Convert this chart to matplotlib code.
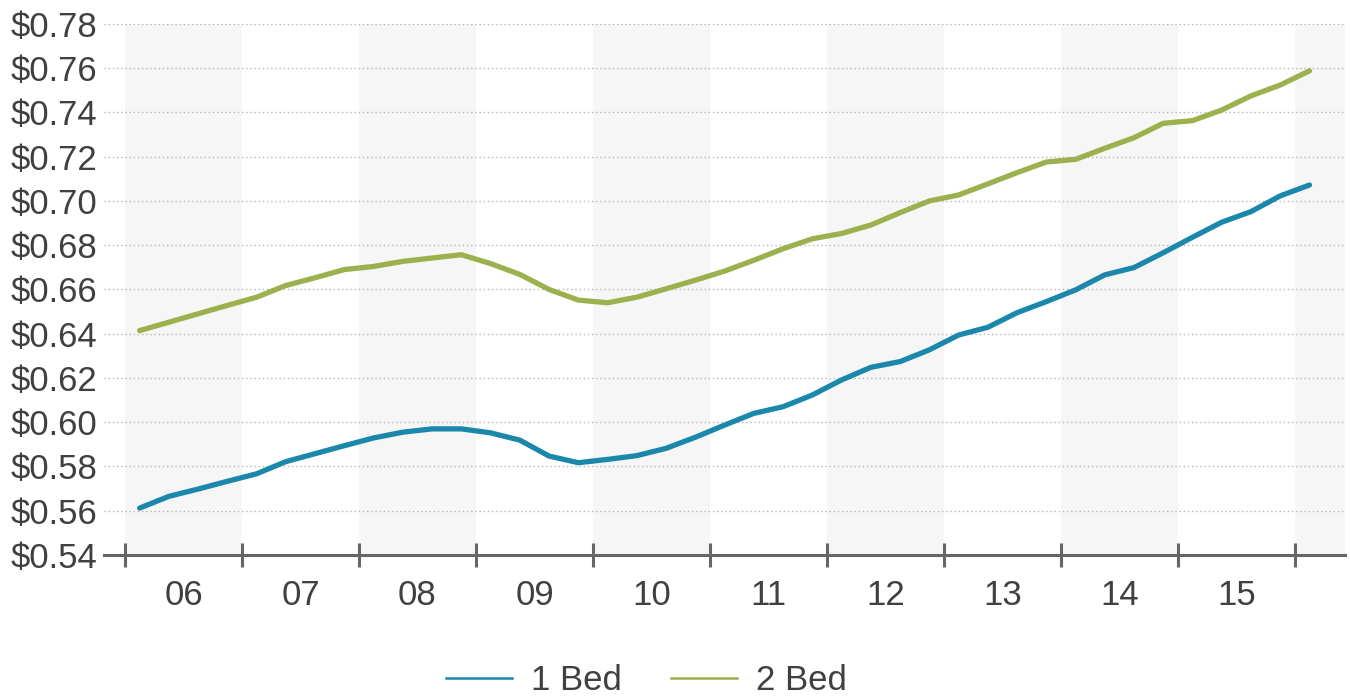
import matplotlib.pyplot as plt
from matplotlib.lines import Line2D
from matplotlib.ticker import FuncFormatter, FixedLocator

plt.rcParams['font.family'] = ['Liberation Sans', 'DejaVu Sans']

# quarterly rent per sq ft, Q1 2006 .. Q1 2016
one_bed = [0.5612, 0.5665, 0.5698, 0.5733, 0.5767, 0.5822, 0.5858, 0.5894,
           0.5929, 0.5955, 0.5970, 0.5970, 0.5952, 0.5919, 0.5847, 0.5817,
           0.5832, 0.5849, 0.5882, 0.5932, 0.5987, 0.6040, 0.6070, 0.6123,
           0.6191, 0.6248, 0.6274, 0.6327, 0.6394, 0.6429, 0.6495, 0.6545,
           0.6598, 0.6666, 0.6699, 0.6766, 0.6836, 0.6904, 0.6952, 0.7023,
           0.7072]
two_bed = [0.6414, 0.6452, 0.6490, 0.6528, 0.6565, 0.6618, 0.6653, 0.6690,
           0.6704, 0.6727, 0.6742, 0.6757, 0.6717, 0.6668, 0.6600, 0.6552,
           0.6540, 0.6565, 0.6603, 0.6642, 0.6683, 0.6732, 0.6784, 0.6829,
           0.6853, 0.6891, 0.6947, 0.7000, 0.7027, 0.7077, 0.7128, 0.7176,
           0.7188, 0.7238, 0.7286, 0.7351, 0.7363, 0.7411, 0.7475, 0.7524,
           0.7588]
years = ['06', '07', '08', '09', '10', '11', '12', '13', '14', '15']

blue = '#1b88ab'
green = '#9cb04e'
txt = '#404040'

x = [i + 0.5 for i in range(len(one_bed))]

fig = plt.figure(figsize=(13.5, 6.96), dpi=100)
ax = fig.add_axes([0.077, 0.2026, 0.919, 0.763])

xmax = 41.7
# alternating year bands
for i in range(0, 44, 8):
    ax.axvspan(i, min(i + 4, xmax), color='#f6f6f6', lw=0, zorder=0)

ax.plot(x, one_bed, color=blue, lw=3.8, solid_capstyle='round', zorder=3)
ax.plot(x, two_bed, color=green, lw=3.8, solid_capstyle='round', zorder=3)

ax.set_xlim(-0.72, xmax)
ax.set_ylim(0.54, 0.78)
ax.set_yticks([0.54 + 0.02 * i for i in range(13)])
ax.yaxis.set_major_formatter(FuncFormatter(lambda v, p: f'${v:.2f}'))
ax.grid(axis='y', color='#b5b5b5', ls=(0, (1, 2)), lw=1, zorder=1)

ax.xaxis.set_major_locator(FixedLocator([4 * i for i in range(11)]))
ax.xaxis.set_minor_locator(FixedLocator([4 * i + 2 for i in range(10)]))
ax.set_xticklabels([])
ax.set_xticklabels(years, minor=True)
ax.tick_params(axis='x', which='major', direction='inout', length=17, width=2.2, color='#666666')
ax.tick_params(axis='x', which='minor', length=0, pad=17, labelsize=25, labelcolor=txt)
ax.tick_params(axis='y', length=0, pad=5, labelsize=25, labelcolor=txt)

for s in ['top', 'right', 'left']:
    ax.spines[s].set_visible(False)
ax.spines['bottom'].set_color('#666666')
ax.spines['bottom'].set_linewidth(2.2)
ax.spines['bottom'].set_zorder(4)

handles = [Line2D([], [], color=blue, lw=1.8), Line2D([], [], color=green, lw=1.8)]
fig.legend(handles, ['1 Bed', '2 Bed'], loc='center', bbox_to_anchor=(0.479, 0.022),
           ncol=2, frameon=False, fontsize=25, handlelength=1.9, columnspacing=1.4,
           handletextpad=0.55, labelcolor=txt)

plt.savefig('out.png', dpi=100)
